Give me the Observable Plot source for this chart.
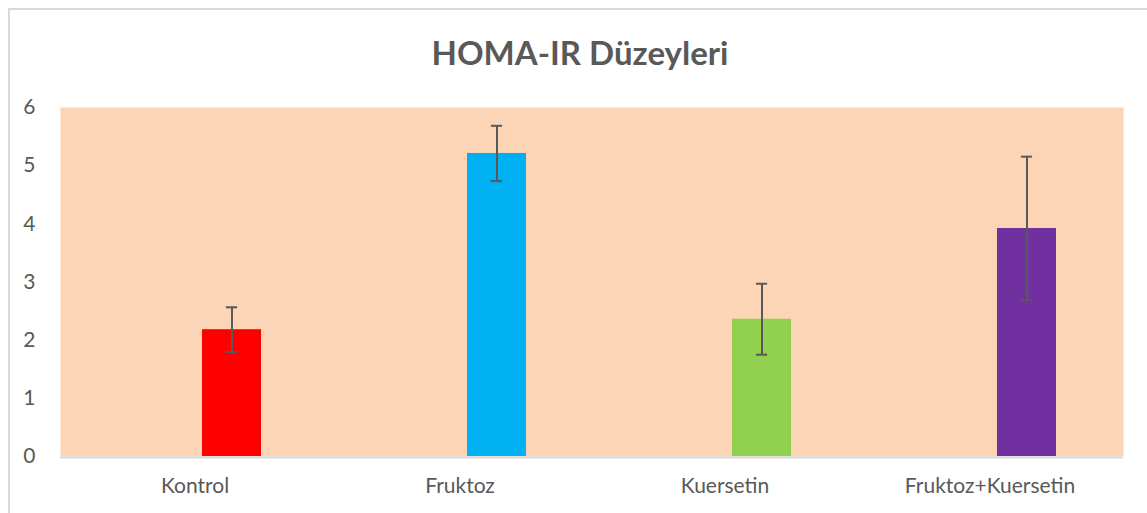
<!DOCTYPE html>
<html>
<head>
<meta charset="utf-8">
<script src="https://cdn.jsdelivr.net/npm/d3@7"></script>
<script src="https://cdn.jsdelivr.net/npm/@observablehq/plot@0.6"></script>
<style>
  html, body { margin: 0; padding: 0; background: #fff; }
  #wrap { position: relative; width: 1147px; height: 513px; overflow: hidden; font-family: Lato, "Open Sans", sans-serif; }
  #frame { position: absolute; left: 8px; top: 8px; width: 1200px; height: 600px; border-left: 2px solid #D9D9D9; border-top: 2px solid #D9D9D9; box-sizing: border-box; }
  #title { position: absolute; left: 0; width: 1160px; top: 31px; text-align: center; font-weight: bold; font-size: 33px; color: #595959; line-height: 42px; }
  #chart { position: absolute; left: 0; top: 100px; }
</style>
</head>
<body>
<div id="wrap">
  <div id="frame"></div>
  <div id="title">HOMA-IR Düzeyleri</div>
  <div id="chart"></div>
</div>
<script>
const categories = ["Kontrol", "Fruktoz", "Kuersetin", "Fruktoz+Kuersetin"];
const values = [2.18, 5.21, 2.36, 3.92];
const errors = [0.385, 0.475, 0.61, 1.235];
const colors = ["#FF0000", "#00B0F0", "#92D050", "#7030A0"];
const yTicks = [0, 1, 2, 3, 4, 5, 6];

const data = categories.map((c, i) => ({
  cat: c, v: values[i], lo: values[i] - errors[i], hi: values[i] + errors[i], color: colors[i]
}));

const chart = Plot.plot({
  width: 1147,
  height: 413,
  marginLeft: 60,
  marginRight: 24,
  marginTop: 7,
  marginBottom: 57,
  style: { fontFamily: "Lato, 'Open Sans', sans-serif", fontSize: "21px", color: "#595959", background: "transparent", overflow: "visible" },
  x: { domain: categories, padding: 0, label: null, tickSize: 0, tickPadding: 22 },
  y: { domain: [0, 6], ticks: yTicks, tickFormat: "d", label: null, tickSize: 0, tickPadding: 25 },
  marks: [
    Plot.frame({ fill: "#FBD5B5", stroke: null }),
    Plot.barY(data, { x: "cat", y: "v", fill: "color", insetLeft: 140, insetRight: 66 }),
    Plot.ruleY([0], { stroke: "#D9D9D9", strokeWidth: 2, dy: 1 }),
    Plot.ruleX(data, { x: "cat", y1: "lo", y2: "hi", stroke: "#595959", strokeWidth: 2, dx: 37 }),
    Plot.tickY(data, { x: "cat", y: "hi", stroke: "#595959", strokeWidth: 2, insetLeft: 163.9, insetRight: 89.9 }),
    Plot.tickY(data, { x: "cat", y: "lo", stroke: "#595959", strokeWidth: 2, insetLeft: 163.9, insetRight: 89.9 })
  ]
});
document.getElementById("chart").appendChild(chart);
</script>
</body>
</html>
